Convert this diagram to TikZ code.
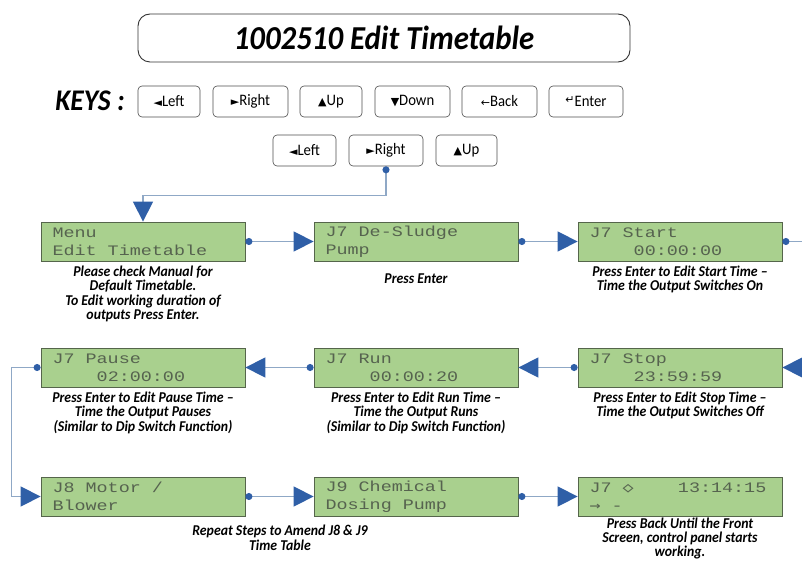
\documentclass[tikz,border=0pt]{standalone}
\usepackage{fontspec}
\setmainfont{Carlito}
\newfontfamily\condfont[FakeStretch=0.92]{Carlito}
\newfontfamily\lcdfont[FakeStretch=1.27]{Liberation Mono}
\newfontfamily\lcdsym[FakeStretch=1.27]{DejaVu Sans Mono}
\newfontfamily\symfont{DejaVu Sans}
\usetikzlibrary{arrows.meta,positioning}
\definecolor{lcdgreen}{HTML}{A9D08E}
\definecolor{lcdedge}{HTML}{55654B}
\definecolor{lcdtext}{HTML}{56634F}
\definecolor{linkline}{HTML}{8FA8C6}
\definecolor{linktip}{HTML}{2F5FA7}
\newcommand{\keysym}[1]{{\symfont\fontsize{11}{11}\selectfont#1}}
\newcommand{\lcdglyph}[1]{{\lcdsym\fontsize{14.5}{18}\selectfont#1}}
\newcommand{\blank}{\phantom{0}}
\tikzset{
  lcd/.style={draw=lcdedge, line width=0.8pt, fill=lcdgreen, text=lcdtext,
    minimum width=204pt, minimum height=39pt, text width=181pt,
    inner xsep=11.5pt, inner ysep=0pt, align=left,
    font=\lcdfont\fontsize{14.5}{18}\selectfont},
  caption/.style={inner sep=0pt, align=center,
    font=\condfont\bfseries\itshape\fontsize{15}{14.5}\selectfont},
  key/.style={draw=black!70, line width=0.6pt, rounded corners=4pt,
    minimum height=31pt, inner sep=0pt, font=\condfont\fontsize{16}{16}\selectfont},
  link/.style={draw=linkline, line width=1.4pt,
    {Circle[length=7pt,color=linktip]}-{Triangle[length=20pt,width=20pt,color=linktip]}}
}
\begin{document}
\begin{tikzpicture}[x=1pt,y=-1pt]
\clip (0,0) rectangle (802,561);
\path node (title) at (384,38) [draw=black!80, line width=0.9pt, rounded corners=12pt,
        minimum width=492pt, minimum height=48pt,
        font=\condfont\bfseries\itshape\fontsize{33.5}{36}\selectfont] {1002510 Edit Timetable}
      node (keys) at (90,101) [font=\condfont\bfseries\itshape\fontsize{30}{32}\selectfont] {KEYS :}
      node (kleft) at (169,101.5) [key, minimum width=62pt] {\keysym{◄}Left}
      node (kright) at (250.5,101.5) [key, minimum width=75pt] {\keysym{►}Right}
      node (kup) at (331,101.5) [key, minimum width=62pt] {\keysym{▲}Up}
      node (kdown) at (412.5,101.5) [key, minimum width=75pt] {\keysym{▼}Down}
      node (kback) at (499.5,101.5) [key, minimum width=75pt] {\keysym{←}Back}
      node (kenter) at (586,101.5) [key, minimum width=74pt] {\raisebox{3pt}{\keysym{↵}}Enter}
      node (sleft) at (304.5,150.5) [key, minimum width=63pt] {\keysym{◄}Left}
      node (sright) at (386,150.5) [key, minimum width=74pt] {\keysym{►}Right}
      node (sup) at (466.5,150.5) [key, minimum width=61pt] {\keysym{▲}Up}
;
\path node (menu) at (143,241.5) [lcd] {Menu\\Edit\blank Timetable}
      node (sludge) at (416,241.5) [lcd] {J7\blank De-Sludge\\Pump}
      node (start) at (680,241.5) [lcd] {J7\blank Start\\\blank\blank\blank\blank 00:00:00}
      node (pause) at (143,367.5) [lcd] {J7\blank Pause\\\blank\blank\blank\blank 02:00:00}
      node (run) at (416,367.5) [lcd] {J7\blank Run\\\blank\blank\blank\blank 00:00:20}
      node (stop) at (680,367.5) [lcd] {J7\blank Stop\\\blank\blank\blank\blank 23:59:59}
      node (motor) at (143,496.5) [lcd] {J8\blank Motor\blank /\\Blower}
      node (dosing) at (416,496.5) [lcd] {J9\blank Chemical\\Dosing\blank Pump}
      node (front) at (680,496.5) [lcd] {J7\blank\lcdglyph{◇}\blank\blank\blank\blank 13:14:15\\\lcdglyph{→}\blank -}
;
\node[caption, below=4pt of menu] (capmenu) {Please check Manual for\\Default Timetable.\\To Edit working duration of\\outputs Press Enter.};
\node[caption, below=12pt of sludge] (capsludge) {Press Enter};
\node[caption, below=4pt of start] (capstart) {Press Enter to Edit Start Time –\\Time the Output Switches On};
\node[caption, below=4pt of pause] (cappause) {Press Enter to Edit Pause Time –\\Time the Output Pauses\\(Similar to Dip Switch Function)};
\node[caption, below=4pt of run] (caprun) {Press Enter to Edit Run Time –\\Time the Output Runs\\(Similar to Dip Switch Function)};
\node[caption, below=4pt of stop] (capstop) {Press Enter to Edit Stop Time –\\Time the Output Switches Off};
\node[caption, anchor=north] (caprepeat) at (280,525) {Repeat Steps to Amend J8 \& J9\\Time Table};
\node[caption, below=1pt of front, font=\condfont\bfseries\itshape\fontsize{15}{14}\selectfont] (capfront) {Press Back Until the Front\\Screen, control panel starts\\working.};
\draw[link] (sright.south) -- ++(0,29) -| (menu.north);
\draw[link] (menu.east) -- (sludge.west);
\draw[link] (sludge.east) -- (start.west);
\draw[link] (start.east) -- ++(25,0) |- (stop.east);
\draw[link] (stop.west) -- (run.east);
\draw[link] (run.west) -- (pause.east);
\draw[link] (pause.west) -- ++(-29,0) |- (motor.west);
\draw[link] (motor.east) -- (dosing.west);
\draw[link] (dosing.east) -- (front.west);
\end{tikzpicture}
\end{document}
